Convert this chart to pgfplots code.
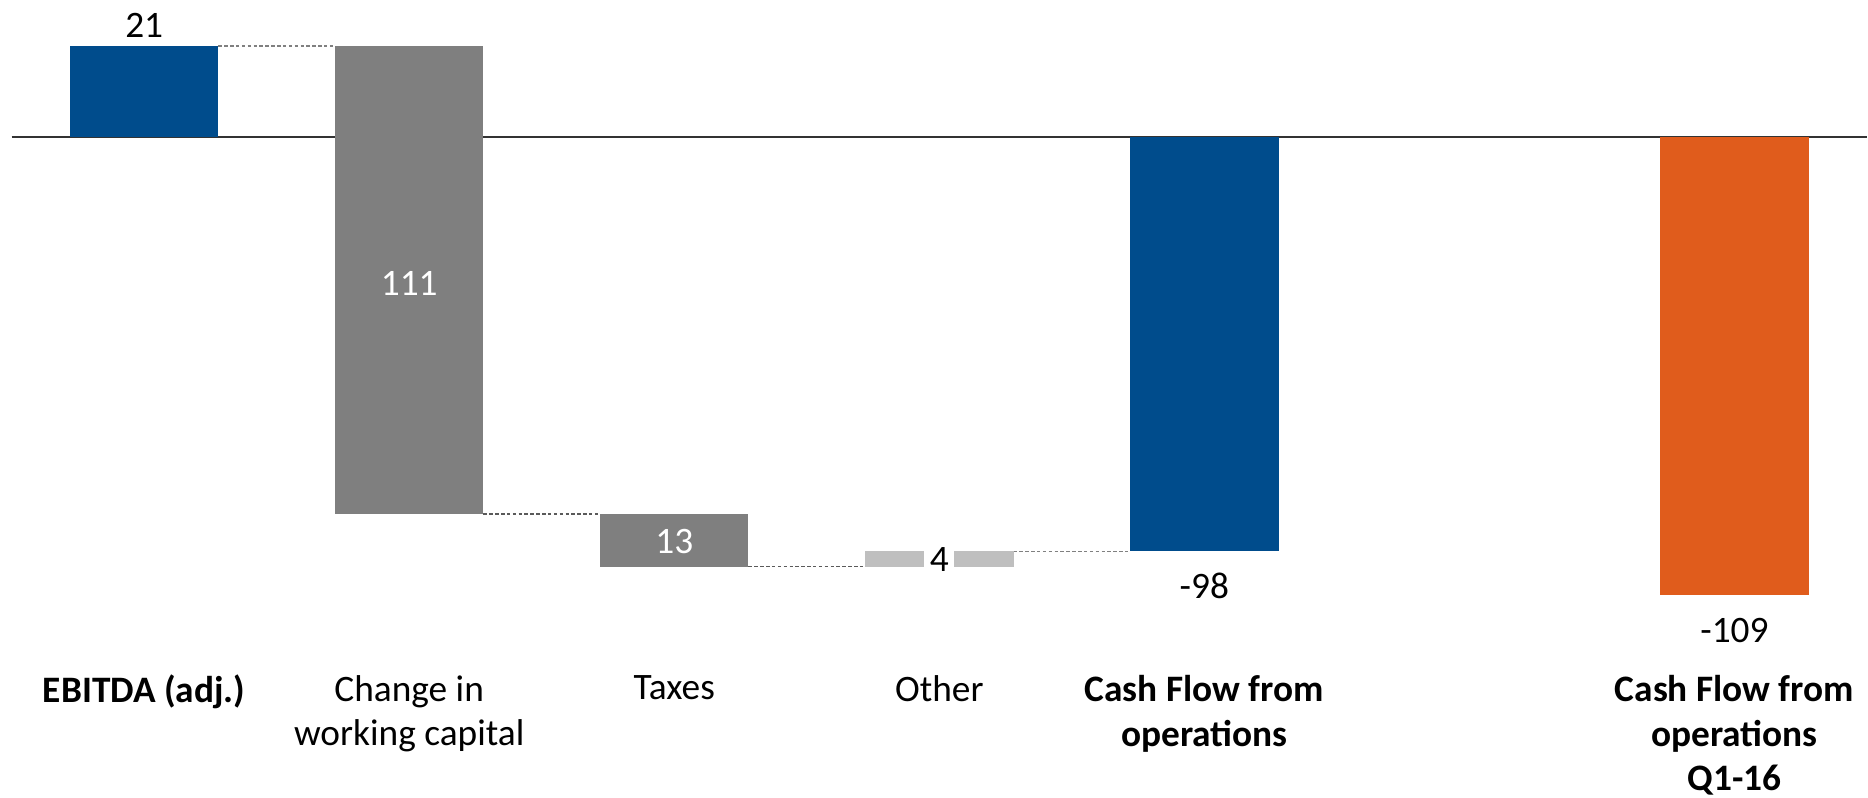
\documentclass[border=0pt]{standalone}
\usepackage{pgfplots}
\pgfplotsset{compat=1.18}
\usepackage{fontspec}
\setmainfont{Carlito}
\definecolor{cblue}{HTML}{004C8C}
\definecolor{cgray}{HTML}{7F7F7F}
\definecolor{clight}{HTML}{BFBFBF}
\definecolor{corange}{HTML}{E05C1C}
\definecolor{czero}{HTML}{333333}
\definecolor{cdash}{HTML}{808080}
\newcommand\lbl{\fontsize{14}{16.8}\selectfont}
\begin{document}
\begin{tikzpicture}
\begin{axis}[
  scale only axis, width=700.5pt, height=297.6pt,
  xmin=-0.544, xmax=6.503, ymin=-155.8, ymax=32.5,
  axis lines=none, clip=false,
  every axis plot/.append style={forget plot},
]
% keep the full plotting area (plus a little room below) as the picture's extent
\path (axis cs:-0.544,32.5) rectangle (axis cs:6.503,-156.8);
% zero line
\addplot[color=czero, line width=0.8pt] coordinates {(-0.5,0) (6.5,0)};
% connectors
\addplot[cdash, line width=0.5pt, dash pattern=on 1.3pt off 0.9pt] coordinates {(0.28,21.6) (0.72,21.6)};
\addplot[cdash!70!black, line width=0.5pt, dash pattern=on 1.3pt off 0.9pt] coordinates {(1.28,-89.5) (1.72,-89.5)};
\addplot[cdash!70!black, line width=0.5pt, dash pattern=on 1.3pt off 0.9pt] coordinates {(2.28,-102) (2.72,-102)};
\addplot[cdash, line width=0.5pt, dash pattern=on 1.3pt off 0.9pt] coordinates {(3.28,-98.3) (3.72,-98.3)};
% bars (corners: left/right, bottom/top)
\addplot[fill=cblue, draw=none] coordinates {(-0.28,0) (0.28,0) (0.28,21.6) (-0.28,21.6)} -- cycle;
\addplot[fill=cgray, draw=none] coordinates {(0.72,21.6) (1.28,21.6) (1.28,-89.5) (0.72,-89.5)} -- cycle;
\addplot[fill=cgray, draw=none] coordinates {(1.72,-89.5) (2.28,-89.5) (2.28,-102) (1.72,-102)} -- cycle;
\addplot[fill=clight, draw=none] coordinates {(2.72,-102) (3.28,-102) (3.28,-98.3) (2.72,-98.3)} -- cycle;
\addplot[fill=cblue, draw=none] coordinates {(3.72,0) (4.28,0) (4.28,-98.3) (3.72,-98.3)} -- cycle;
\addplot[fill=corange, draw=none] coordinates {(5.72,0) (6.28,0) (6.28,-108.8) (5.72,-108.8)} -- cycle;
% value labels
\node[font=\lbl, text=black] at (axis cs:0,26.5) {21};
\node[font=\lbl, text=white] at (axis cs:1,-34.7) {111};
\node[font=\lbl, text=white] at (axis cs:2,-96) {13};
\node[font=\lbl, text=black, fill=white, inner xsep=2.1pt, inner ysep=0.5pt] at (axis cs:3,-100.3) {4};
\node[font=\lbl, text=black] at (axis cs:4,-106.5) {-98};
\node[font=\lbl, text=black] at (axis cs:6,-117.2) {-109};
% category labels
\node[font=\lbl, anchor=north, align=center, inner sep=0pt] at (axis cs:0,-127.6) {\textbf{EBITDA (adj.)}};
\node[font=\lbl, anchor=north, align=center, inner sep=0pt] at (axis cs:1,-127.6) {Change in\\working capital};
\node[font=\lbl, anchor=north, align=center, inner sep=0pt] at (axis cs:2,-127.6) {Taxes};
\node[font=\lbl, anchor=north, align=center, inner sep=0pt] at (axis cs:3,-127.6) {Other};
\node[font=\lbl\bfseries, anchor=north, align=center, inner sep=0pt] at (axis cs:4,-127.6) {Cash Flow from\\operations};
\node[font=\lbl\bfseries, anchor=north, align=center, inner sep=0pt] at (axis cs:6,-127.6) {Cash Flow from\\operations\\Q1-16};
\end{axis}
\end{tikzpicture}
\end{document}
